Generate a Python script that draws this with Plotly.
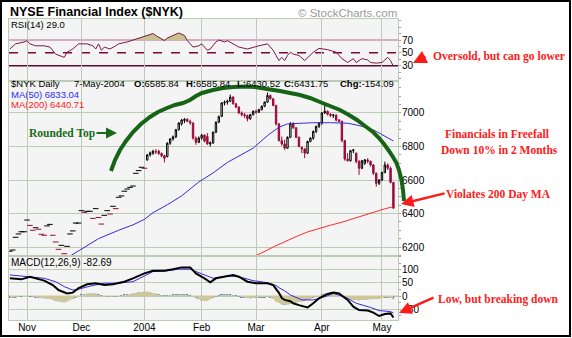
import plotly.graph_objects as go
import pandas as pd

W, H = 572, 338

# ---------------- calendar (trading days) ----------------
holidays = ["2003-11-27", "2003-12-25", "2004-01-01", "2004-01-19", "2004-02-16", "2004-04-09"]
days = [d for d in pd.bdate_range("2003-10-24", "2004-05-07") if d.strftime("%Y-%m-%d") not in holidays]
idx = list(range(len(days)))
month_labels = ["Nov", "Dec", "2004", "Feb", "Mar", "Apr", "May"]
month_ticks = [i for i in idx if i > 0 and days[i].month != days[i - 1].month]

# ---------------- price data ----------------
# Oct 24 - Jan 2: close-only prints
close_early = [6175, 6182, 6258, 6278, 6291, 6291, 6361, 6329, 6300, 6315,
               6306, 6276, 6270, 6326, 6335, 6270, 6230, 6186, 6210, 6160,
               6204, 6278, 6296, 6343, 6343, 6417, 6407, 6413, 6413, 6371,
               6429, 6376, 6337, 6389, 6417, 6397, 6443, 6429, 6497, 6505,
               6533, 6546, 6556, 6564, 6640, 6656, 6676, 6670]
# Jan 5 - May 7 candles
cand_open = [6720, 6750, 6760, 6770, 6772, 6758, 6745, 6740, 6820, 6845,
             6858, 6900, 6935, 6955, 6962, 6950, 6940, 6850, 6825, 6850,
             6868, 6860, 6815, 6822, 6885, 6945, 6980, 7060, 7065, 7070,
             7095, 7055, 7035, 7000, 6990, 6985, 6965, 6990, 7010, 7005,
             7020, 7040, 7065, 7105, 7085, 7045, 6935, 6835, 6815, 6790,
             6855, 6935, 6912, 6855, 6795, 6785, 6760, 6830, 6850, 6890,
             6920, 6940, 7000, 7010, 6992, 6985, 6988, 6958, 6950, 6835,
             6725, 6715, 6775, 6760, 6710, 6670, 6700, 6720, 6712, 6690,
             6640, 6580, 6600, 6645, 6690, 6670, 6585.84]
cand_high = [6755, 6770, 6780, 6785, 6780, 6765, 6750, 6825, 6850, 6865,
             6905, 6945, 6965, 6970, 6968, 6960, 6945, 6860, 6860, 6875,
             6872, 6880, 6830, 6890, 6950, 6985, 7065, 7075, 7080, 7110,
             7100, 7060, 7040, 7010, 7000, 6990, 6995, 7015, 7020, 7025,
             7045, 7070, 7122, 7110, 7090, 7050, 6940, 6860, 6840, 6860,
             6945, 6945, 6915, 6860, 6800, 6790, 6835, 6855, 6895, 6925,
             6945, 7005, 7048, 7015, 7000, 6995, 6990, 6965, 6955, 6840,
             6760, 6780, 6785, 6765, 6720, 6720, 6725, 6730, 6715, 6695,
             6645, 6605, 6650, 6710, 6700, 6680, 6585.84]
cand_low = [6715, 6740, 6750, 6755, 6750, 6735, 6705, 6735, 6810, 6835,
            6850, 6895, 6925, 6940, 6945, 6930, 6840, 6810, 6820, 6840,
            6825, 6810, 6800, 6815, 6880, 6940, 6975, 7045, 7050, 7065,
            7050, 7030, 6995, 6980, 6970, 6950, 6960, 6985, 6995, 7000,
            7015, 7035, 7060, 7080, 7040, 6925, 6830, 6805, 6780, 6785,
            6850, 6905, 6850, 6795, 6760, 6730, 6755, 6825, 6840, 6880,
            6910, 6930, 6995, 6985, 6975, 6970, 6950, 6945, 6825, 6715,
            6710, 6710, 6760, 6700, 6630, 6665, 6690, 6700, 6680, 6630,
            6560, 6570, 6595, 6640, 6660, 6580, 6430.52]
cand_close = [6750, 6762, 6772, 6768, 6758, 6745, 6730, 6820, 6845, 6858,
              6900, 6940, 6958, 6962, 6950, 6940, 6850, 6825, 6850, 6868,
              6832, 6815, 6822, 6885, 6945, 6978, 7060, 7065, 7070, 7095,
              7055, 7035, 7000, 6990, 6985, 6965, 6990, 7010, 7005, 7020,
              7040, 7065, 7105, 7085, 7045, 6935, 6835, 6815, 6790, 6855,
              6935, 6912, 6855, 6800, 6785, 6760, 6830, 6850, 6890, 6920,
              6940, 7000, 7010, 6992, 6985, 6988, 6958, 6950, 6835, 6725,
              6715, 6775, 6780, 6710, 6670, 6715, 6720, 6712, 6690, 6640,
              6580, 6600, 6645, 6690, 6670, 6585.84, 6431.75]

n_early = len(close_early)
early_x = idx[:n_early]
cand_x = idx[n_early:]

# ---------------- moving averages (day index, value) ----------------
ma50_x = [19, 25, 31, 38, 43, 47, 50, 55, 60, 66, 71, 76, 80, 85, 90, 92, 94, 97,
          102, 106, 112, 118, 122, 126, 128, 131, 134]
ma50_v = [6125, 6190, 6250, 6300, 6332, 6365, 6405, 6452, 6505, 6588, 6642, 6705,
          6745, 6790, 6865, 6890, 6915, 6935, 6939, 6942, 6942, 6939, 6925, 6905,
          6890, 6862, 6833.04]
ma200_x = [84, 88, 92, 96, 100, 104, 108, 112, 116, 120, 124, 128, 131, 134]
ma200_v = [6135, 6165, 6200, 6232, 6262, 6290, 6312, 6330, 6348, 6370, 6392, 6415,
           6428, 6440.71]

# ---------------- RSI(14) ----------------
rsi_x = [0, 2, 5, 6, 7, 9, 12, 14, 16, 17, 19, 20, 22, 24, 27, 29, 30, 31, 32, 33,
         35, 37, 38, 41, 43, 45, 48, 50, 51, 54, 55, 57, 59, 61, 62, 64, 66, 67, 69, 70,
         72, 73, 75, 76, 78, 80, 83, 85, 87, 90, 92, 93, 94, 95, 96, 97, 98, 99, 101, 103,
         105, 106, 108, 111, 114, 116, 118, 120, 121, 123, 125, 126, 128, 130, 132, 133, 134]
rsi_v = [56, 64, 67, 69, 64, 61, 61, 59, 48, 46, 43, 51, 56, 64, 64, 61, 56, 64, 54, 59,
         56, 61, 64, 67, 70, 73, 77, 80, 77, 69, 73, 77, 81, 77, 69, 59, 61, 64, 54, 56,
         67, 70, 67, 69, 64, 59, 56, 59, 61, 64, 54, 46, 38, 43, 38, 46, 51, 48, 46, 38,
         46, 51, 57, 55, 51, 41, 35, 41, 35, 41, 39, 35, 34, 35, 43, 38, 29]

# ---------------- MACD(12,26,9) ----------------
macd_x = [0, 4, 7, 9, 12, 15, 17, 20, 22, 24, 27, 30, 33, 36, 40, 43, 47, 50, 54, 57,
          60, 63, 65, 68, 70, 72, 75, 78, 80, 83, 86, 90, 92, 93, 94, 95, 96, 98, 99, 101,
          104, 106, 108, 111, 113, 115, 118, 120, 122, 125, 127, 129, 131, 133, 134]
macd_v = [68, 64, 74, 68, 59, 42, 23, 10, 13, 30, 45, 49, 42, 45, 55, 68, 87, 97, 97, 103,
          110, 110, 87, 68, 53, 68, 74, 81, 74, 55, 49, 49, 42, 28, 12, -8, -15, -20, -28, -35,
          -44, -28, -9, 8, 13, 10, -15, -41, -54, -56, -64, -77, -69, -67, -82.69]
sig_x = [0, 7, 12, 16, 19, 22, 24, 28, 33, 37, 43, 47, 50, 55, 59, 63, 68, 71, 76, 80,
         85, 90, 93, 94, 96, 98, 102, 106, 110, 113, 117, 121, 126, 129, 133, 134]
sig_v = [81, 74, 68, 55, 36, 23, 26, 38, 49, 49, 55, 77, 94, 97, 103, 103, 81, 68, 77, 74,
         59, 51, 40, 32, 20, 4, -15, -15, -3, 10, -3, -28, -44, -56, -60, -65]
hist_v = [-8, -7, -5, -3, -1, 0,
          0, -1, -3, -5, -6, -8, -9,
          -10, -12, -15, -18, -20, -22, -24,
          -20, -15, -10, -5, 0,
          4, 7, 9, 10, 10, 9,
          5, 2, 0, -2, -3, -3,
          -2, 0, 2, 4, 6, 8, 10, 12,
          14, 15, 16, 16, 15, 12, 9, 6,
          3, 2, 2, 3, 4, 5, 6, 6,
          5, 4, 2, 0,
          -6, -12, -16, -18, -17, -12,
          -6, -2, 2, 4, 5, 5,
          4, 3, 1, -2, -4, -6, -8,
          -9, -8, -7, -6, -5, -4, -3,
          -5, -12, -20, -27, -32, -34,
          -32, -30, -27, -24, -22, -20, -18,
          -14, -10, -6, -3, 0,
          6, 9, 11, 12, 11, 8,
          3, -2, -8, -12, -14, -15, -15,
          -16, -15, -14, -13, -12, -12, -12,
          -10, -8, -6, -6, -8, -12]

# ---------------- helpers ----------------
def PX(x):
    return x / W


def PY(y):
    return 1 - y / H


GRID = "#bccab6"
BG = "#f4f4f4"
MAROON = "#9a0a3a"
RED = "#ff1a1a"
GREEN = "#1a6a1a"
SANS = "Liberation Sans"
SERIF = "Liberation Serif"

# RSI fill above 70 (insert crossing points)
fx, fy = [], []
for k in range(len(rsi_x)):
    if k > 0:
        x0, y0, x1, y1 = rsi_x[k - 1], rsi_v[k - 1], rsi_x[k], rsi_v[k]
        if (y0 - 70) * (y1 - 70) < 0:
            t = (70 - y0) / (y1 - y0)
            fx.append(x0 + t * (x1 - x0))
            fy.append(70)
    fx.append(rsi_x[k])
    fy.append(max(rsi_v[k], 70))

# colour of close-only prints: up vs previous close
early_colors = ["black"] + ["black" if close_early[k] >= close_early[k - 1] else MAROON
                            for k in range(1, n_early)]

fig = go.Figure()

# RSI panel
fig.add_trace(go.Scatter(x=fx, y=[70] * len(fx), mode="lines", line=dict(width=0),
                         xaxis="x2", yaxis="y2", hoverinfo="skip"))
fig.add_trace(go.Scatter(x=fx, y=fy, mode="lines", line=dict(width=0), fill="tonexty",
                         fillcolor="#c9c28c", xaxis="x2", yaxis="y2", hoverinfo="skip"))
fig.add_trace(go.Scatter(x=rsi_x, y=rsi_v, mode="lines", line=dict(color="#7a1848", width=1),
                         xaxis="x2", yaxis="y2", hoverinfo="skip"))

# Price panel
fig.add_trace(go.Scatter(x=ma50_x, y=ma50_v, mode="lines", line=dict(color="#3a2ad8", width=1),
                         xaxis="x", yaxis="y", hoverinfo="skip"))
fig.add_trace(go.Scatter(x=ma200_x, y=ma200_v, mode="lines", line=dict(color="#ff2a2a", width=1),
                         xaxis="x", yaxis="y", hoverinfo="skip"))
fig.add_trace(go.Scatter(x=early_x, y=close_early, mode="markers", xaxis="x", yaxis="y",
                         hoverinfo="skip",
                         marker=dict(symbol="line-ew", size=4,
                                     line=dict(width=1, color=early_colors))))
fig.add_trace(go.Candlestick(x=cand_x, open=cand_open, high=cand_high, low=cand_low, close=cand_close,
                             xaxis="x", yaxis="y", whiskerwidth=0, hoverinfo="skip",
                             increasing=dict(line=dict(color="black", width=1), fillcolor="white"),
                             decreasing=dict(line=dict(color=MAROON, width=1), fillcolor=MAROON)))

# MACD panel
fig.add_trace(go.Scatter(x=idx, y=hist_v, mode="lines", line=dict(width=0, shape="hvh"),
                         fill="tozeroy", fillcolor="#cfc699", xaxis="x3", yaxis="y3", hoverinfo="skip"))
fig.add_trace(go.Bar(x=idx, y=hist_v, width=0.55, marker=dict(color="#3a8ad0", line=dict(width=0)),
                     xaxis="x3", yaxis="y3", hoverinfo="skip"))
fig.add_trace(go.Scatter(x=sig_x, y=sig_v, mode="lines", line=dict(color="#3a2ad8", width=1),
                         xaxis="x3", yaxis="y3", hoverinfo="skip"))
fig.add_trace(go.Scatter(x=macd_x, y=macd_v, mode="lines", line=dict(color="black", width=2),
                         xaxis="x3", yaxis="y3", hoverinfo="skip"))

xr = [-0.3, 135.6]
xdom = [PX(9), PX(398)]
xcommon = dict(domain=xdom, range=xr, tickvals=month_ticks, ticktext=month_labels,
               showgrid=True, gridcolor=GRID, gridwidth=1, zeroline=False,
               showline=True, linecolor=GRID, mirror=True, ticks="", fixedrange=True)
ycommon = dict(side="right", showline=True, linecolor=GRID, mirror=True, zeroline=False,
               ticks="outside", ticklen=2, tickcolor="#a0a0a0", ticklabelstandoff=-1,
               tickfont=dict(size=10, color="black", family=SANS), fixedrange=True)

fig.update_layout(
    width=W, height=H, margin=dict(l=0, r=0, t=0, b=0),
    paper_bgcolor="white", plot_bgcolor=BG, showlegend=False,
    font=dict(family=SANS, size=10, color="black"),
    xaxis=dict(**xcommon, anchor="y", showticklabels=False, rangeslider=dict(visible=False)),
    xaxis2=dict(**xcommon, anchor="y2", showticklabels=False, matches="x"),
    xaxis3=dict(**xcommon, anchor="y3", showticklabels=True, matches="x", ticklabelstandoff=-2,
                tickfont=dict(size=10, color="black", family=SANS)),
    yaxis=dict(**ycommon, anchor="x", domain=[PY(256), PY(81)], range=[6146.3, 7191],
               tickvals=[6200, 6400, 6600, 6800, 7000], showgrid=True, gridcolor=GRID,
               minor=dict(ticks="outside", ticklen=2, tickcolor="#a0a0a0", dtick=50, showgrid=False)),
    yaxis2=dict(**ycommon, anchor="x2", domain=[PY(81), PY(19)], range=[6.2, 102.7],
                tickvals=[30, 50, 70], showgrid=False,
                minor=dict(ticks="outside", ticklen=2, tickcolor="#a0a0a0", dtick=10, showgrid=False)),
    yaxis3=dict(**ycommon, anchor="x3", domain=[PY(320), PY(256)], range=[-92.3, 153.8],
                tickvals=[-50, 0, 50, 100], showgrid=True, gridcolor=GRID,
                minor=dict(ticks="outside", ticklen=2, tickcolor="#a0a0a0", dtick=25, showgrid=False)),
)

shapes = [
    dict(type="line", xref="x2 domain", yref="y2", x0=0, x1=1, y0=70, y1=70,
         line=dict(color="#b06888", width=1), layer="below"),
    dict(type="line", xref="x2 domain", yref="y2", x0=0, x1=1, y0=50, y1=50,
         line=dict(color="#7a0a3a", width=1.5, dash="dash"), layer="below"),
    dict(type="line", xref="x2 domain", yref="y2", x0=0, x1=1, y0=30, y1=30,
         line=dict(color="#5e0a30", width=1.5), layer="below"),
    dict(type="line", xref="x3 domain", yref="y3", x0=0, x1=1, y0=0, y1=0,
         line=dict(color="#cfc699", width=1), layer="below"),
]

# hand-drawn "rounded top" arc (annotation, pixel space)
arc_pts = [(111, 171), (115, 160), (120, 150), (126, 141), (133, 132), (141, 124), (150, 117),
           (158, 112), (167, 108), (175, 105), (183, 103), (190, 100), (196, 96), (202, 93),
           (213, 90), (223, 88), (233, 87), (245, 86.5), (255, 87), (267, 89), (280, 91),
           (290, 93), (300, 95), (310, 98), (320, 102), (330, 106), (340, 110), (349, 115),
           (357, 120), (365, 126), (373, 132), (379, 138), (384, 144), (389, 151), (393, 157),
           (396.5, 163), (399, 170), (401.5, 180), (403, 190), (404, 201)]
path = "M " + " L ".join(f"{PX(x):.5f},{PY(y):.5f}" for x, y in arc_pts)
shapes.append(dict(type="path", xref="paper", yref="paper", path=path,
                   line=dict(color="#166416", width=4), layer="above"))
# outer frame
shapes.append(dict(type="rect", xref="paper", yref="paper", x0=PX(1), x1=PX(570),
                   y0=PY(336), y1=PY(1), line=dict(color="black", width=2), layer="above"))
fig.update_layout(shapes=shapes)


def label(x, y, text, size=10, color="black", family=SANS, anchor="left"):
    return dict(x=PX(x), y=PY(y), xref="paper", yref="paper", text=text, showarrow=False,
                xanchor=anchor, yanchor="middle", borderpad=0,
                font=dict(size=size, color=color, family=family))


def arrow(hx, hy, tx, ty, color, width, size=1.0):
    return dict(x=PX(hx), y=PY(hy), xref="paper", yref="paper", ax=tx - hx, ay=ty - hy,
                text="", showarrow=True, arrowhead=2, arrowsize=size, arrowwidth=width,
                arrowcolor=color, standoff=0, startstandoff=0)


ann = [
    label(9, 11.5, "<b>NYSE Financial Index ($NYK)</b>", size=12.5),
    label(297, 13, "© StockCharts.com", size=11.5, color="#9a9a9a"),
    label(10, 24, "RSI(14) 29.0", size=9.5),
    label(10, 84, "$NYK Daily", size=9.5),
    label(73, 84, "7-May-2004", size=9.5),
    label(133, 84, "<b>O:</b>6585.84", size=9.5),
    label(185, 84, "<b>H:</b>6585.84", size=9.5),
    label(236, 84, "<b>L:</b>6430.52", size=9.5),
    label(283, 84, "<b>C:</b>6431.75", size=9.5),
    label(339, 84, "<b>Chg:</b>-154.09", size=9.5),
    label(10, 94.5, "MA(50) 6833.04", size=9.5, color="#2b2bff"),
    label(10, 104.5, "MA(200) 6440.71", size=9.5, color="#ff2020"),
    label(10, 262.7, "MACD(12,26,9) -82.69"),
    label(499, 57, "<b>Oversold, but can go lower</b>", size=11.5, color=RED, family=SERIF, anchor="center"),
    label(62, 133, "<b>Rounded Top</b>", size=11.5, color=GREEN, family=SERIF, anchor="center"),
    label(496.5, 133.5, "<b>Financials in Freefall</b>", size=11.5, color=RED, family=SERIF, anchor="center"),
    label(499.5, 149.5, "<b>Down 10% in 2 Months</b>", size=11.5, color=RED, family=SERIF, anchor="center"),
    label(498, 195, "<b>Violates 200 Day MA</b>", size=11.5, color=RED, family=SERIF, anchor="center"),
    label(498, 299, "<b>Low, but breaking down</b>", size=11.5, color=RED, family=SERIF, anchor="center"),
    arrow(117, 133, 95, 133, GREEN, 2, 1.1),
    arrow(413, 63, 427, 56, RED, 3, 0.9),
    arrow(401, 204, 446, 193, RED, 2.5, 1.0),
    arrow(399, 313, 435, 297, RED, 2.5, 1.0),
]
fig.update_layout(annotations=ann)

fig.write_html("out.html")
